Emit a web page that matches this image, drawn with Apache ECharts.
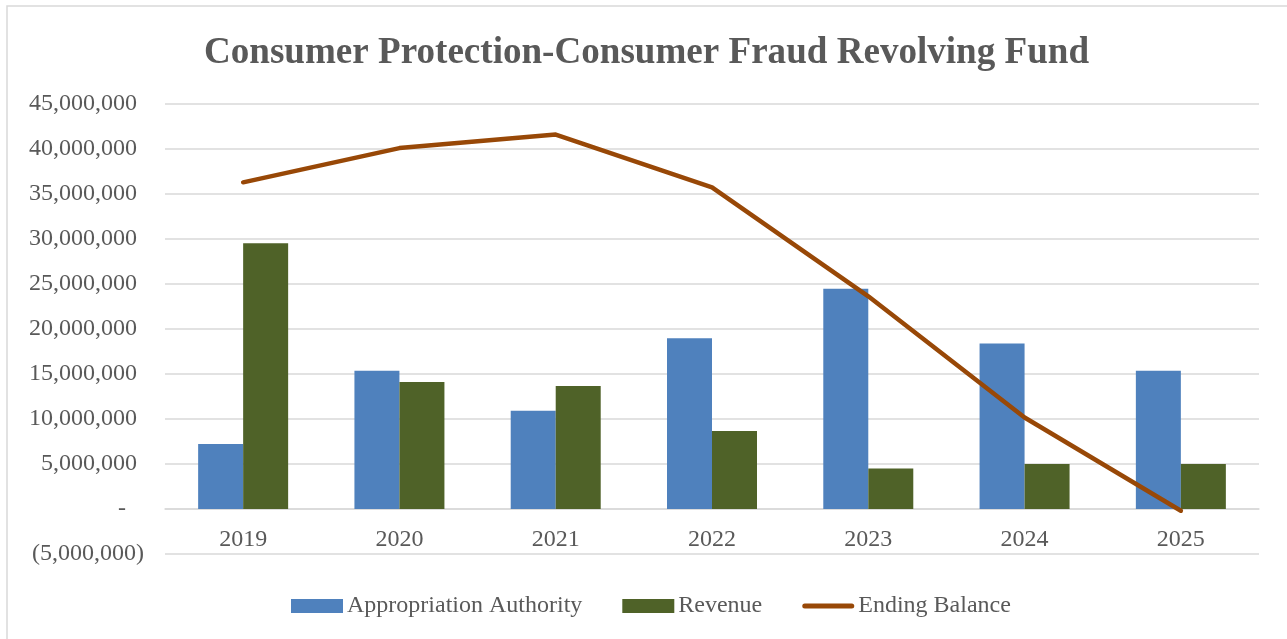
<!DOCTYPE html>
<html>
<head>
<meta charset="utf-8">
<script src="https://cdn.jsdelivr.net/npm/echarts@6/dist/echarts.min.js"></script>
<style>
html,body{margin:0;padding:0;background:#fff;}
#chart{width:1287px;height:639px;}
</style>
</head>
<body>
<div id="chart"></div>
<script>
var titleText = 'Consumer Protection-Consumer Fraud Revolving Fund';
var categories = ['2019', '2020', '2021', '2022', '2023', '2024', '2025'];
var appropriationAuthority = [7200000, 15350000, 10900000, 18950000, 24450000, 18350000, 15350000];
var revenue = [29500000, 14100000, 13650000, 8650000, 4500000, 5000000, 5000000];
var endingBalance = [36250000, 40050000, 41550000, 35700000, 23600000, 10150000, -200000];
var seriesNames = ['Appropriation Authority', 'Revenue', 'Ending Balance'];
var yMin = -5000000, yMax = 45000000, yStep = 5000000;

var FONT = '"Liberation Serif", "Times New Roman", serif';
var TEXT = '#595959';
var GRID = '#D9D9D9';
var FS = 24;

function fmt(n) {
  return String(Math.round(n)).replace(/\B(?=(\d{3})+(?!\d))/g, ',');
}

var chart = echarts.init(document.getElementById('chart'));
chart.setOption({
  backgroundColor: '#ffffff',
  animation: false,
  title: {
    text: titleText,
    left: 204,
    top: 35,
    padding: 0,
    textStyle: { fontFamily: FONT, fontWeight: 'bold', fontSize: 37.1, color: TEXT }
  },
  graphic: [{
    type: 'rect',
    shape: { x: 7, y: 6, width: 1300, height: 660 },
    style: { fill: 'none', stroke: GRID, lineWidth: 1.5 },
    silent: true
  }],
  legend: {
    bottom: 21,
    left: 291,
    padding: 0,
    itemWidth: 52,
    itemHeight: 14,
    itemGap: 40,
    textStyle: { fontFamily: FONT, fontSize: FS, color: TEXT, padding: [0, 0, 0, -1] },
    data: [
      { name: seriesNames[0], icon: 'rect' },
      { name: seriesNames[1], icon: 'rect' },
      { name: seriesNames[2], icon: 'path://M5,0 H99 A5,5 0 0 1 99,10 H5 A5,5 0 0 1 5,0 Z' }
    ]
  },
  grid: { left: 165, right: 28, top: 103.5, bottom: 85 },
  xAxis: {
    type: 'category',
    data: categories,
    axisLine: { onZero: true, lineStyle: { color: GRID, width: 1.5 } },
    axisTick: { show: false },
    axisLabel: { fontFamily: FONT, fontSize: FS, color: TEXT, margin: -26 }
  },
  yAxis: {
    type: 'value',
    min: yMin,
    max: yMax,
    interval: yStep,
    axisLine: { show: false },
    axisTick: { show: false },
    splitLine: { lineStyle: { color: GRID, width: 1.5 } },
    axisLabel: {
      margin: 21,
      fontFamily: FONT, fontSize: FS, color: TEXT,
      formatter: function (v) {
        if (v === 0) return '{a|-}{z| }';
        if (v < 0) return '{a|(' + fmt(-v) + ')}';
        return '{a|' + fmt(v) + '}{p| }';
      },
      rich: {
        a: { fontFamily: FONT, fontSize: FS, color: TEXT },
        p: { width: 7, fontSize: FS },
        z: { width: 18, fontSize: FS }
      }
    }
  },
  series: [
    {
      name: seriesNames[0], type: 'bar', data: appropriationAuthority,
      barWidth: 45, barGap: '0%',
      itemStyle: { color: '#4F81BD' }
    },
    {
      name: seriesNames[1], type: 'bar', data: revenue,
      barWidth: 45, barGap: '0%',
      itemStyle: { color: '#4F6228' }
    },
    {
      name: seriesNames[2], type: 'line', data: endingBalance,
      symbol: 'none',
      lineStyle: { color: '#984807', width: 4.5, cap: 'round', join: 'round' },
      itemStyle: { color: '#984807' }
    }
  ]
});
</script>
</body>
</html>
